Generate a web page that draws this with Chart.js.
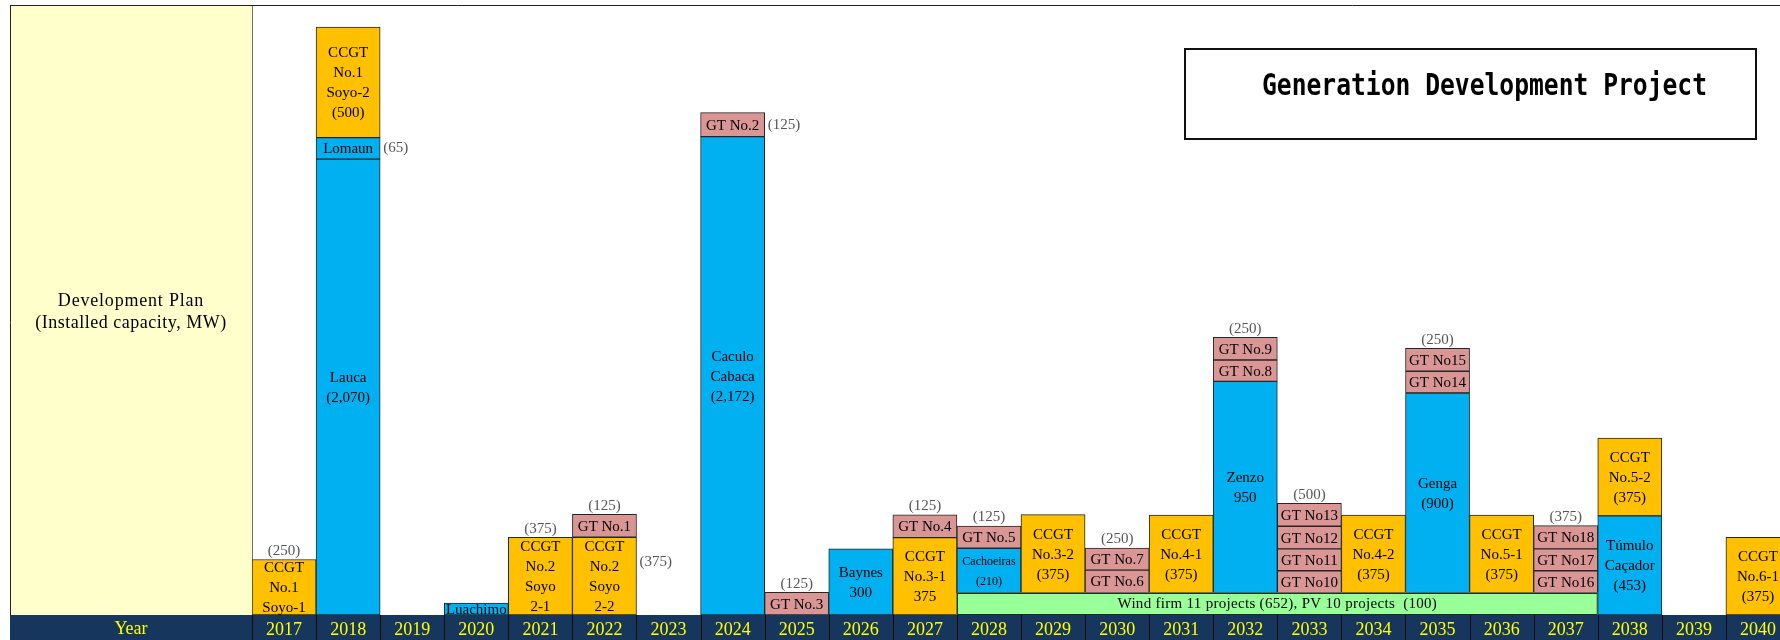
<!DOCTYPE html>
<html>
<head>
<meta charset="utf-8">
<script src="https://cdn.jsdelivr.net/npm/chart.js@4.4.1/dist/chart.umd.min.js"></script>
<style>
  html, body { margin: 0; padding: 0; background: #fff; overflow: hidden; }
  #wrap { width: 1800px; height: 640px; }
</style>
</head>
<body>
<div id="wrap"><canvas id="plan" width="1800" height="640"></canvas></div>
<script>
const years = ['2017','2018','2019','2020','2021','2022','2023','2024','2025','2026','2027','2028',
               '2029','2030','2031','2032','2033','2034','2035','2036','2037','2038','2039','2040'];

// bottom strip shared by 2028-2037 (wind + PV)
const band = [0,0,0,0,0,0,0,0,0,0,0,100,100,100,100,100,100,100,100,100,100,0,0,0];
const bandText = 'Wind firm 11 projects (652), PV 10 projects  (100)';

// stacked segments, bottom to top (H = hydro, C = CCGT, G = GT)
const tier1 = [252, 2070, 0, 54, 353, 353, 0, 2172, 103, 300, 351, 203, 356, 104, 354, 961, 101, 354, 908, 354, 101, 450, 0, 353];
const tier1Kind = ['C','H','','H','C','C','','H','G','H','C','H','C','G','C','H','G','C','H','C','G','H','','C'];
const tier1Text = ['CCGT\nNo.1\nSoyo-1', 'Lauca\n(2,070)', '', 'Luachimo', 'CCGT\nNo.2\nSoyo\n2-1', 'CCGT\nNo.2\nSoyo\n2-2', '',
  'Caculo\nCabaca\n(2,172)', 'GT No.3', 'Baynes\n300', 'CCGT\nNo.3-1\n375', 'Cachoeiras\n(210)', 'CCGT\nNo.3-2\n(375)',
  'GT No.6', 'CCGT\nNo.4-1\n(375)', 'Zenzo\n950', 'GT No10', 'CCGT\nNo.4-2\n(375)', 'Genga\n(900)', 'CCGT\nNo.5-1\n(375)',
  'GT No16', 'Túmulo\nCaçador\n(453)', '', 'CCGT\nNo.6-1\n(375)'];

const tier2 = [0, 98, 0, 0, 0, 104, 0, 109, 0, 0, 104, 101, 0, 100, 0, 97, 99, 0, 99, 0, 99, 353, 0, 0];
const tier2Kind = ['','H','','','','G','','G','','','G','G','','G','','G','G','','G','','G','C','',''];
const tier2Text = ['', 'Lomaun', '', '', '', 'GT No.1', '', 'GT No.2', '', '', 'GT No.4', 'GT No.5', '', 'GT No.7', '',
  'GT No.8', 'GT No11', '', 'GT No14', '', 'GT No17', 'CCGT\nNo.5-2\n(375)', '', ''];

const tier3 = [0, 502, 0, 0, 0, 0, 0, 0, 0, 0, 0, 0, 0, 0, 0, 103, 103, 0, 104, 0, 106, 0, 0, 0];
const tier3Kind = ['','C','','','','','','','','','','','','','','G','G','','G','','G','','',''];
const tier3Text = ['', 'CCGT\nNo.1\nSoyo-2\n(500)', '', '', '', '', '', '', '', '', '', '', '', '', '',
  'GT No.9', 'GT No12', '', 'GT No15', '', 'GT No18', '', '', ''];

const tier4 = [0, 0, 0, 0, 0, 0, 0, 0, 0, 0, 0, 0, 0, 0, 0, 0, 104, 0, 0, 0, 0, 0, 0, 0];
const tier4Kind = ['','','','','','','','','','','','','','','','','G','','','','','','',''];
const tier4Text = ['','','','','','','','','','','','','','','','','GT No13','','','','','','',''];

// capacity notes above each stack
const topNote = ['(250)','','','','(375)','(125)','','','(125)','','(125)','(125)','','(250)','','(250)','(500)','','(250)','','(375)','','',''];
// notes beside a segment
const sideNotes = [
  { year: '2018', tier: 2, text: '(65)', dy: 0 },
  { year: '2022', tier: 1, text: '(375)', dy: -14 },
  { year: '2024', tier: 2, text: '(125)', dy: 0 }
];

const kindColor = { H: '#00B0F0', C: '#FFC000', G: '#DA9694' };
const serif = '"Liberation Serif", "DejaVu Serif", serif';

const tiers = [
  { data: tier1, kind: tier1Kind, text: tier1Text },
  { data: tier2, kind: tier2Kind, text: tier2Text },
  { data: tier3, kind: tier3Kind, text: tier3Text },
  { data: tier4, kind: tier4Kind, text: tier4Text }
];

const datasets = [{
  label: 'Wind / PV',
  data: band.map(v => v || null),
  backgroundColor: '#99FF99',
  borderWidth: 0,
  stack: 'plan'
}].concat(tiers.map((t, i) => ({
  label: 'tier' + (i + 1),
  data: t.data.map(v => v || null),
  backgroundColor: t.kind.map(k => kindColor[k] || 'rgba(0,0,0,0)'),
  borderColor: '#262626',
  borderWidth: 1,
  borderSkipped: false,
  stack: 'plan'
})));

function drawLines(ctx, text, x, cy, lh) {
  const lines = text.split('\n');
  lines.forEach((t, i) => ctx.fillText(t, x, cy + (i - (lines.length - 1) / 2) * lh));
}

const framePlugin = {
  id: 'frame',
  beforeDraw(chart) {
    const ctx = chart.ctx;
    const area = chart.chartArea;
    const xs = chart.scales.x;
    ctx.save();
    ctx.fillStyle = '#fff';
    ctx.fillRect(0, 0, chart.width, chart.height);
    // left caption panel
    ctx.fillStyle = '#FFFFCC';
    ctx.fillRect(10, area.top, area.left - 10, area.bottom - area.top);
    ctx.strokeStyle = '#707070';
    ctx.lineWidth = 1;
    ctx.beginPath();
    ctx.moveTo(area.left + 0.5, area.top);
    ctx.lineTo(area.left + 0.5, area.bottom);
    ctx.stroke();
    ctx.strokeStyle = '#222';
    ctx.beginPath();
    ctx.moveTo(10.5, area.top);
    ctx.lineTo(10.5, chart.height);
    ctx.moveTo(10, area.top + 0.5);
    ctx.lineTo(chart.width, area.top + 0.5);
    ctx.stroke();
    ctx.fillStyle = '#000';
    ctx.font = '18px ' + serif;
    ctx.letterSpacing = '0.8px';
    ctx.textAlign = 'center';
    ctx.textBaseline = 'middle';
    ctx.fillText('Development Plan', (10 + area.left) / 2, 301);
    ctx.letterSpacing = '0.5px';
    ctx.fillText('(Installed capacity, MW)', (10 + area.left) / 2, 323);
    ctx.letterSpacing = '0px';
    // year strip
    ctx.fillStyle = '#17365D';
    ctx.fillRect(10, area.bottom, chart.width - 10, chart.height - area.bottom);
    ctx.strokeStyle = '#0a0a0a';
    ctx.beginPath();
    const w = xs.getPixelForValue(1) - xs.getPixelForValue(0);
    for (let i = 0; i <= years.length; i++) {
      const x = Math.round(xs.getPixelForValue(0) - w / 2 + i * w) + 0.5;
      ctx.moveTo(x, area.bottom);
      ctx.lineTo(x, chart.height);
    }
    ctx.stroke();
    ctx.fillStyle = '#FFFF00';
    ctx.fillText('Year', (10 + area.left) / 2, 629);
    ctx.restore();
  },
  afterDatasetsDraw(chart) {
    const ctx = chart.ctx;
    const area = chart.chartArea;
    const ys = chart.scales.y;
    ctx.save();
    ctx.beginPath();
    ctx.rect(area.left, area.top, area.right - area.left, area.bottom - area.top);
    ctx.clip();
    ctx.textAlign = 'center';
    ctx.textBaseline = 'middle';

    // wind / PV strip outline and caption
    const bandMeta = chart.getDatasetMeta(0).data.filter((el, i) => band[i]);
    if (bandMeta.length) {
      const left = bandMeta[0].x - bandMeta[0].width / 2;
      const last = bandMeta[bandMeta.length - 1];
      const right = last.x + last.width / 2;
      const top = bandMeta[0].y;
      const bottom = bandMeta[0].base;
      ctx.strokeStyle = '#262626';
      ctx.lineWidth = 1;
      ctx.strokeRect(left + 0.5, top + 0.5, right - left - 1, bottom - top - 1);
      ctx.fillStyle = '#000';
      ctx.font = '15px ' + serif;
      ctx.letterSpacing = '0.3px';
      ctx.fillText(bandText, (left + right) / 2, (top + bottom) / 2);
      ctx.letterSpacing = '0px';
    }

    // labels inside segments
    tiers.forEach((t, ti) => {
      const meta = chart.getDatasetMeta(ti + 1);
      meta.data.forEach((el, i) => {
        const txt = t.text[i];
        if (!t.data[i] || !txt) return;
        let size = 15;
        ctx.font = size + 'px ' + serif;
        const widest = Math.max(...txt.split('\n').map(s => ctx.measureText(s).width));
        if (widest > el.width - 6 && txt.indexOf('\n') > 0) {
          size = Math.floor(size * (el.width - 8) / widest);
          ctx.font = size + 'px ' + serif;
        }
        ctx.fillStyle = '#000';
        ctx.save();
        ctx.beginPath();
        ctx.rect(el.x - el.width / 2, Math.min(el.y, el.base) - 4, el.width, Math.abs(el.base - el.y) + 8);
        ctx.clip();
        drawLines(ctx, txt, el.x, (el.y + el.base) / 2 + 1, 20);
        ctx.restore();
      });
    });

    // notes above stacks
    ctx.fillStyle = '#555';
    ctx.font = '15px ' + serif;
    ctx.textBaseline = 'bottom';
    topNote.forEach((note, i) => {
      if (!note) return;
      const total = band[i] + tier1[i] + tier2[i] + tier3[i] + tier4[i];
      const x = chart.scales.x.getPixelForValue(i);
      ctx.fillText(note, x, ys.getPixelForValue(total) - 1);
    });

    // notes beside segments
    ctx.textAlign = 'left';
    ctx.textBaseline = 'middle';
    sideNotes.forEach(n => {
      const i = years.indexOf(n.year);
      const el = chart.getDatasetMeta(n.tier).data[i];
      ctx.fillText(n.text, el.x + el.width / 2 + 3, (el.y + el.base) / 2 + n.dy);
    });
    ctx.restore();
  },
  afterDraw(chart) {
    const ctx = chart.ctx;
    ctx.save();
    ctx.strokeStyle = '#111';
    ctx.lineWidth = 2;
    ctx.strokeRect(1185, 49, 571, 90);
    ctx.fillStyle = '#000';
    ctx.font = 'bold 30px "DejaVu Sans Mono", monospace';
    ctx.textAlign = 'left';
    ctx.textBaseline = 'alphabetic';
    ctx.fillText('Generation Development Project', 1262, 95, 445);
    ctx.restore();
  }
};

new Chart(document.getElementById('plan').getContext('2d'), {
  type: 'bar',
  data: { labels: years, datasets: datasets },
  options: {
    responsive: false,
    devicePixelRatio: 1,
    animation: false,
    layout: { padding: { left: 252, right: 10, top: 5, bottom: 0 } },
    datasets: { bar: { categoryPercentage: 1, barPercentage: 1 } },
    plugins: { legend: { display: false }, tooltip: { enabled: false } },
    scales: {
      x: {
        stacked: true,
        grid: { display: false, drawTicks: false },
        border: { display: false },
        ticks: {
          color: '#FFFF00',
          font: { family: serif, size: 18 },
          padding: 4,
          maxRotation: 0,
          autoSkip: false
        },
        afterFit(scale) { scale.height = 25; }
      },
      y: { stacked: true, display: false, min: 0, max: 2770 }
    }
  },
  plugins: [framePlugin]
});
</script>
</body>
</html>
